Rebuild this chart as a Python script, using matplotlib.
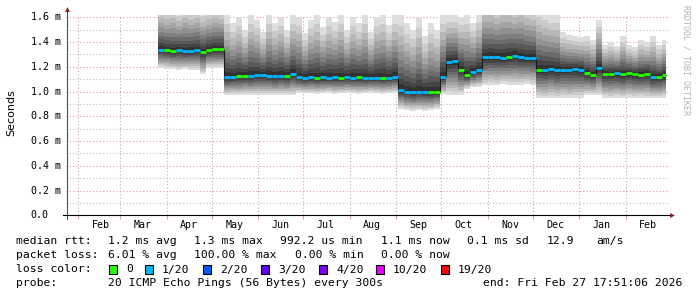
import datetime as dt
import numpy as np
import matplotlib
matplotlib.use("Agg")
import matplotlib.pyplot as plt
from matplotlib.patches import Rectangle
from matplotlib.lines import Line2D
from matplotlib.transforms import blended_transform_factory

# ---- data, 4-day bins starting 2025-03-26 ----
t_end = dt.datetime(2026, 2, 27, 17, 51, 6)
t_start = t_end - dt.timedelta(days=400)
first_bin = dt.datetime(2025, 3, 26)
bin_days = 4

median = [1.338, 1.333, 1.325, 1.338, 1.325, 1.330, 1.333, 1.317, 1.333, 1.341, 1.343,
          1.114, 1.117, 1.122, 1.125, 1.127, 1.130, 1.130, 1.127, 1.125, 1.127, 1.125,
          1.141, 1.114, 1.109, 1.114, 1.111, 1.114, 1.111, 1.114, 1.111, 1.114, 1.111,
          1.114, 1.106, 1.109, 1.111, 1.111, 1.111, 1.117,
          1.014, 1.000, 0.993, 1.000, 0.998, 0.995, 1.000,
          1.120, 1.238, 1.244, 1.176, 1.130, 1.155, 1.171,
          1.276, 1.279, 1.279, 1.271, 1.281, 1.290, 1.276, 1.271, 1.271,
          1.176, 1.174, 1.182, 1.171, 1.176, 1.176, 1.179, 1.174,
          1.149, 1.133, 1.190, 1.144, 1.141, 1.147, 1.138, 1.149, 1.141, 1.136, 1.144,
          1.114, 1.117, 1.130]

smoke_hi = [1.70, 1.68, 1.70, 1.66, 1.70, 1.68, 1.70, 1.66, 1.68, 1.70, 1.68,
            1.62, 1.55, 1.60, 1.50, 1.62, 1.58, 1.48, 1.62, 1.55, 1.60, 1.50,
            1.62, 1.60, 1.47, 1.58, 1.62, 1.52, 1.60, 1.56, 1.62, 1.50, 1.60,
            1.55, 1.62, 1.48, 1.60, 1.62, 1.54, 1.62,
            1.62, 1.55, 1.50, 1.60, 1.45, 1.55, 1.50,
            1.62, 1.62, 1.62, 1.60, 1.62, 1.55, 1.62,
            1.75, 1.75, 1.72, 1.75, 1.75, 1.72, 1.75, 1.72, 1.70,
            1.68, 1.65, 1.62, 1.62, 1.48, 1.46, 1.45, 1.44,
            1.45, 1.42, 1.58, 1.38, 1.40, 1.37, 1.45, 1.38, 1.36, 1.42, 1.40,
            1.45, 1.38, 1.42]

smoke_lo = [1.19, 1.185, 1.18, 1.175, 1.18, 1.175, 1.17, 1.14, 1.19, 1.19, 1.19,
            0.97, 0.975, 0.97, 0.975, 0.97, 0.975, 0.97, 0.975, 0.97, 0.975, 0.97,
            0.975, 0.99, 0.985, 0.985, 0.98, 0.985, 0.99, 0.98, 0.985, 0.99, 0.985,
            0.98, 0.985, 0.99, 0.985, 0.98, 0.985, 0.99,
            0.86, 0.85, 0.845, 0.85, 0.845, 0.85, 0.86,
            0.98, 0.975, 0.97, 0.975, 1.02, 1.035, 1.04,
            1.05, 1.055, 1.05, 1.06, 1.055, 1.05, 1.055, 1.06, 1.05,
            0.95, 0.945, 0.95, 0.945, 0.95, 0.945, 0.95, 0.95,
            0.97, 0.97, 0.97, 0.95, 0.945, 0.95, 0.945, 0.95, 0.945, 0.95, 0.945,
            0.95, 0.945, 0.95]

# lost pings out of 20 per bin
loss = [1, 0, 0, 1, 1, 1, 1, 0, 0, 0, 0,
        1, 1, 0, 0, 1, 1, 1, 1, 1, 1, 0,
        1, 1, 1, 1, 0, 1, 1, 1, 0, 1, 1,
        0, 1, 1, 1, 0, 1, 1,
        1, 1, 1, 1, 1, 0, 0,
        1, 1, 1, 0, 0, 1, 1,
        1, 1, 1, 1, 0, 1, 1, 1, 1,
        0, 1, 1, 1, 1, 1, 1, 1,
        0, 0, 1, 0, 0, 1, 0, 0, 0, 0, 0,
        1, 0, 0]

loss_labels = ["0", "1/20", "2/20", "3/20", "4/20", "10/20", "19/20"]
loss_counts = [0, 1, 2, 3, 4, 10, 19]
loss_colors = ["#26ff00", "#00b8ff", "#0059ff", "#5e00ff", "#7e00ff", "#dd00ff", "#ff0000"]

months = ["Feb", "Mar", "Apr", "May", "Jun", "Jul", "Aug", "Sep", "Oct", "Nov", "Dec", "Jan", "Feb"]
month_start = [dt.datetime(2025 + (m + 1) // 12, (m + 1) % 12 + 1, 1) for m in range(0, 13)]

W, H = 697, 297
def fx(px):
    return px / W
def fy(py):
    return 1 - py / H

plt.rcParams['font.family'] = ['DejaVu Sans Mono']
fig = plt.figure(figsize=(W / 100, H / 100), dpi=100)
fig.patch.set_facecolor("white")

ax = fig.add_axes([fx(65.9), fy(215.3), (669 - 65.9) / W, (215.3 - 14.8) / H])
ax.set_xlim(t_start, t_end + dt.timedelta(days=(669 - 665.8) / 1.5))
ax.set_ylim(0, 1.62)
for s in ax.spines.values():
    s.set_visible(False)
ax.set_yticks([])
ax.set_xticks(month_start)
ax.set_xticklabels([])
ax.tick_params(axis="x", length=3, color="#e8a0a0", width=0.8)

# grid
for k in range(1, 17):
    v = k / 10
    if k % 2 == 0:
        ax.axhline(v, color="#e39a9a", lw=0.8, ls=(0, (1, 2)), zorder=0)
    else:
        ax.axhline(v, color="#bdbdbd", lw=0.8, ls=(0, (1, 2)), zorder=0)
for d in month_start:
    ax.axvline(d, color="#e39a9a", lw=0.8, ls=(0, (1, 2)), zorder=0)

# smoke
n = len(median)
edges = [first_bin + dt.timedelta(days=bin_days * i) for i in range(n + 1)]
edges[-1] = min(edges[-1], t_end)
med = np.array(median + [median[-1]])
hi = np.array(smoke_hi + [smoke_hi[-1]])
lo = np.array(smoke_lo + [smoke_lo[-1]])
up_frac = [1.0, 0.85, 0.72, 0.6, 0.5, 0.4, 0.31, 0.23, 0.15, 0.08]
dn_frac = [1.0, 0.9, 0.8, 0.7, 0.6, 0.5, 0.4, 0.3, 0.2, 0.1]
greys = np.linspace(221, 50, 10) / 255
for fu, fd, g in zip(up_frac, dn_frac, greys):
    ax.fill_between(edges, med - (med - lo) * fd, med + (hi - med) * fu,
                    step="post", color=(g, g, g), lw=0, zorder=2)

# median line
ax.step(edges, med, where="post", color="#1a1a1a", lw=0.8, zorder=3)
cmap = dict(zip(loss_counts, loss_colors))
ax.hlines(median, edges[:-1], edges[1:], colors=[cmap[c] for c in loss], lw=2.0, zorder=4)

# axis lines and arrows
arrow_c = "#8b1a1a"
fig.add_artist(Line2D([fx(67), fx(67)], [fy(219), fy(10)], color="#505050", lw=0.8))
fig.add_artist(Line2D([fx(63), fx(671)], [fy(215.3), fy(215.3)], color="black", lw=0.8))
fig.add_artist(Line2D([fx(67)], [fy(9)], marker="^", ms=3.5, color=arrow_c, mew=0))
fig.add_artist(Line2D([fx(672)], [fy(215.3)], marker=">", ms=3.5, color=arrow_c, mew=0))

# y tick labels
tr = blended_transform_factory(fig.transFigure, ax.transData)
for k in range(0, 9):
    v = k * 0.2
    lab = "0.0" if k == 0 else "%.1f m" % v
    ax.text(fx(30.7), v, lab, transform=tr, ha="left", va="center", fontsize=7.2, color="black")

# x labels at mid month
trx = blended_transform_factory(ax.transData, fig.transFigure)
for d, lab in zip(month_start, months):
    ax.text(d + dt.timedelta(days=15), fy(225), lab, transform=trx, ha="center", va="center",
            fontsize=7.2, color="black")

fig.text(fx(11), fy(113), "Seconds", rotation=90, ha="center", va="center",
         fontsize=8, family="DejaVu Sans")
fig.text(fx(686), fy(5), "RRDTOOL / TOBI OETIKER", rotation=270, ha="center", va="top",
         fontsize=6, color="#b4b4b4")

# legend lines
fs = 8.2
row1 = [(16, "median rtt:"), (108, "1.2 ms avg"), (194, "1.3 ms max"), (280, "992.2 us min"),
        (381, "1.1 ms now"), (467, "0.1 ms sd"), (547, "12.9"), (596, "am/s")]
row2 = [(16, "packet loss:"), (108, "6.01 % avg"), (194, "100.00 % max"), (295, "0.00 % min"),
        (381, "0.00 % now")]
for x, s in row1:
    fig.text(fx(x), fy(241), s, ha="left", va="center", fontsize=fs)
for x, s in row2:
    fig.text(fx(x), fy(255.5), s, ha="left", va="center", fontsize=fs)
fig.text(fx(16), fy(269.5), "loss color:", ha="left", va="center", fontsize=fs)
text_x = [126, 162, 220, 278, 336, 393, 458]
for x, lab, c in zip(text_x, loss_labels, loss_colors):
    fig.add_artist(Rectangle((fx(x - 17), fy(274)), 8 / W, 9 / H, transform=fig.transFigure,
                             facecolor=c, edgecolor="black", lw=0.8))
    fig.text(fx(x), fy(269.5), lab, ha="left", va="center", fontsize=fs)
fig.text(fx(16), fy(283.5), "probe:", ha="left", va="center", fontsize=fs)
fig.text(fx(108), fy(283.5), "20 ICMP Echo Pings (56 Bytes) every 300s", ha="left", va="center", fontsize=fs)
fig.text(fx(682), fy(283.5), "end: Fri Feb 27 17:51:06 2026", ha="right", va="center", fontsize=fs)

fig.savefig("out.png", dpi=100, facecolor="white")
